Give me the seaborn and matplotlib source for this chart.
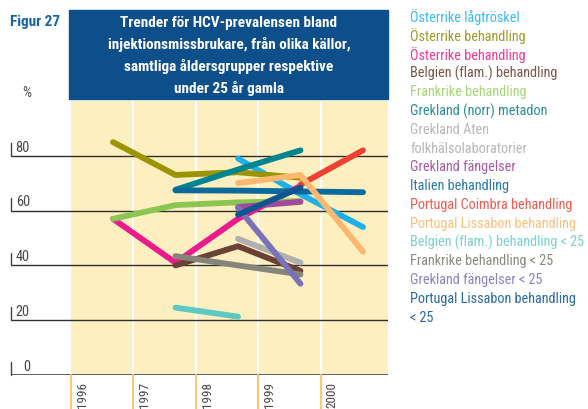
import numpy as np
import pandas as pd
import matplotlib
matplotlib.use("Agg")
import matplotlib.pyplot as plt
import matplotlib.font_manager as fm
from matplotlib.patches import Rectangle
import seaborn as sns

years = [1996, 1997, 1998, 1999, 2000]

series_names = [
    "Österrike lågtröskel",
    "Österrike behandling",
    "Österrike behandling ",
    "Belgien (flam.) behandling",
    "Frankrike behandling",
    "Grekland (norr) metadon",
    "Grekland Aten\nfolkhälsolaboratorier",
    "Grekland fängelser",
    "Italien behandling",
    "Portugal Coimbra behandling",
    "Portugal Lissabon behandling",
    "Belgien (flam.) behandling < 25",
    "Frankrike behandling < 25",
    "Grekland fängelser < 25",
    "Portugal Lissabon behandling\n< 25",
]

# values per year 1996..2000 (None = no data)
aut_low = [None, None, 79, 66, 54]
aut_treat_a = [85, 73, 74, 72, None]
aut_treat_b = [57, 41, 57, 69, None]
bel_treat = [None, 40, 47, 38, None]
fra_treat = [57, 62, 63, 63.5, None]
gre_north = [None, 67.6, 75, 82, None]
gre_athens = [None, None, 49.7, 41, None]
gre_prison = [None, None, 61.3, 63.2, None]
ita_treat = [None, 67.4, 67.3, 67, 66.7]
por_coimbra = [None, None, None, 69.5, 82]
por_lisbon = [None, None, 70, 73, 45]
bel_u25 = [None, 24.6, 21.3, None, None]
fra_u25 = [None, 43.4, 40, 36.7, None]
gre_prison_u25 = [None, None, 61, 33.3, None]
por_lisbon_u25 = [None, None, 58.5, 68.4, None]

all_values = [aut_low, aut_treat_a, aut_treat_b, bel_treat, fra_treat, gre_north,
              gre_athens, gre_prison, ita_treat, por_coimbra, por_lisbon, bel_u25,
              fra_u25, gre_prison_u25, por_lisbon_u25]

colors = ["#1eb1e9", "#9b9300", "#ec1a8c", "#6b4035", "#8cc652", "#00848f",
          "#b0b0b0", "#a04a9c", "#0b6a9a", "#ef4034", "#fbb86e", "#5ec9c0",
          "#85857a", "#7a72b6", "#0f5592"]
legend_colors = ["#3bbcec", "#a09a2a", "#ee3a9a", "#7a5548", "#a6d67a", "#2a8e98",
                 "#b8b8b8", "#a65aa3", "#2a7aa6", "#f05a50", "#fcc07c", "#7ad2cb",
                 "#8a8a7e", "#8a84c0", "#2a6aa0"]

rows = []
for name, vals in zip(series_names, all_values):
    for yr, v in zip(years, vals):
        if v is not None:
            rows.append({"year": yr, "value": v, "series": name})
df = pd.DataFrame(rows)

sns.set_style("white")

# pick a narrow face if one is installed
names = {f.name for f in fm.fontManager.ttflist}
narrow = [n for n in ["Liberation Sans Narrow", "Roboto Condensed", "Open Sans Condensed"]
          if n in names]
plt.rcParams["font.family"] = narrow[:1] + ["DejaVu Sans"]
if any(f.name == "DejaVu Sans" and f.stretch == "condensed" for f in fm.fontManager.ttflist):
    plt.rcParams["font.stretch"] = "condensed"

W, H = 588, 410
fig = plt.figure(figsize=(W / 100, H / 100), dpi=100)
renderer = fig.canvas.get_renderer()


def fit_size(text, target_px, cap, **kw):
    t = fig.text(0, 0, text, fontsize=10, **kw)
    w = t.get_window_extent(renderer).width
    t.remove()
    return min(cap, 10 * target_px / w)


title_fs = fit_size("injektionsmissbrukare, från olika källor,", 282, 11, fontweight="bold")
legend_fs = fit_size("Portugal Lissabon behandling", 167, 10.5)
fig_fs = fit_size("Figur 27", 52, 11, fontweight="bold")
year_fs = fit_size("1996", 26, 10)
tick_fs = fit_size("80", 14, 10.5)

# axes geometry in pixels
ax_left, ax_right, ax_top, ax_bottom = 11, 388, 102, 376
ax = fig.add_axes([ax_left / W, 1 - ax_bottom / H, (ax_right - ax_left) / W,
                   (ax_bottom - ax_top) / H])

px_per_year = 62.5
x0 = years[0] - (113 - ax_left) / px_per_year
x1 = x0 + (ax_right - ax_left) / px_per_year
ax.set_xlim(x0, x1)
ax.set_ylim(0, 100)

bounds = [y - 0.68 for y in years]
ax.axvspan(bounds[0], x1, color="#fdefc0", zorder=0, lw=0)
for b in bounds[1:]:
    ax.axvline(b, color="white", lw=1.6, zorder=1)

for v in [20, 40, 60, 80]:
    ax.axhline(v, color="#2f2f2f", lw=1.0, zorder=1)
ax.axhline(0, color="#555555", lw=1.3, zorder=1)
for v in [0, 20, 40, 60, 80]:
    ax.plot([x0 + 0.005, x0 + 0.005], [v, v + 4.7], color="#444444", lw=1.0,
            clip_on=False, zorder=2)
    ax.text(0.05, v + 0.8, str(v), transform=ax.get_yaxis_transform(),
            ha="right", va="bottom", fontsize=tick_fs, color="#4a4a4a")

sns.lineplot(data=df, x="year", y="value", hue="series", hue_order=series_names,
             palette=dict(zip(series_names, colors)), estimator=None, sort=True,
             linewidth=4.2, legend=False, ax=ax, zorder=3,
             solid_capstyle="round", solid_joinstyle="round")

# orange ticks and year labels below the axis
for b, yr in zip(bounds, years):
    ax.plot([b, b], [0, -13], color="#fbc878", lw=1.5, clip_on=False, zorder=2)
    ax.text(b + 0.19, -2.2, str(yr), rotation=90, ha="center", va="top",
            fontsize=year_fs, color="#4a4a4a", clip_on=False)

ax.set_xlabel("")
ax.set_ylabel("")
ax.set_xticks([])
ax.set_yticks([])
for s in ax.spines.values():
    s.set_visible(False)

# title box
fig.patches.append(Rectangle((69 / W, 1 - 100 / H), 319 / W, 89 / H,
                             transform=fig.transFigure, color="#0d4f8b", zorder=0))
title_lines = ["Trender för HCV-prevalensen bland",
               "injektionsmissbrukare, från olika källor,",
               "samtliga åldersgrupper respektive",
               "under 25 år gamla"]
for i, line in enumerate(title_lines):
    fig.text(229 / W, 1 - (23 + i * 22) / H, line, ha="center", va="center",
             fontsize=title_fs, fontweight="bold", color="white")

fig.text(10 / W, 1 - 22 / H, "Figur 27", ha="left", va="center", fontsize=fig_fs,
         fontweight="bold", color="#1565a8")
fig.text(22 / W, 1 - 93 / H, "%", ha="left", va="center", fontsize=tick_fs,
         color="#4a4a4a")

# legend as coloured text
legend_lines = []
for name, c in zip(series_names, legend_colors):
    for part in name.strip().split("\n"):
        legend_lines.append((part, c))
for i, (txt, c) in enumerate(legend_lines):
    fig.text(410 / W, 1 - (17 + i * 18.8) / H, txt, ha="left", va="center",
             fontsize=legend_fs, color=c)

fig.savefig("out.png", dpi=100)
